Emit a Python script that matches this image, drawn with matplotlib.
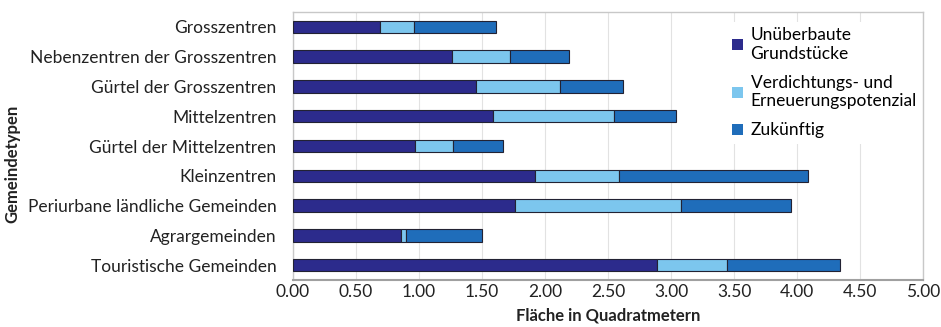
import matplotlib
matplotlib.use("Agg")
import matplotlib.pyplot as plt
import numpy as np

# Gemeindetypen, top to bottom
categories = [
    "Grosszentren",
    "Nebenzentren der Grosszentren",
    "Gürtel der Grosszentren",
    "Mittelzentren",
    "Gürtel der Mittelzentren",
    "Kleinzentren",
    "Periurbane ländliche Gemeinden",
    "Agrargemeinden",
    "Touristische Gemeinden",
]

# Fläche in Quadratmetern per segment
unueberbaut = [0.69, 1.26, 1.45, 1.59, 0.97, 1.92, 1.76, 0.86, 2.89]
verdichtung = [0.27, 0.46, 0.67, 0.96, 0.30, 0.67, 1.32, 0.04, 0.55]
zukuenftig = [0.65, 0.47, 0.50, 0.49, 0.40, 1.50, 0.87, 0.60, 0.90]

series_labels = ["Unüberbaute\nGrundstücke",
                 "Verdichtungs- und\nErneuerungspotenzial",
                 "Zukünftig"]
colors = ["#2c2b8c", "#7cc6ee", "#1f6dba"]
xticks = np.arange(0, 5.01, 0.5)

plt.rcParams["font.family"] = ["Lato", "DejaVu Sans"]
fs = 12.5

fig = plt.figure(figsize=(9.41, 3.27), dpi=100)
ax = fig.add_axes([0.3114, 0.1437, 0.6696, 0.8196])

y = np.arange(len(categories))
left = np.zeros(len(categories))
for vals, col, lab in zip([unueberbaut, verdichtung, zukuenftig], colors, series_labels):
    ax.barh(y, vals, left=left, height=0.42, color=col, edgecolor="#222233",
            linewidth=0.8, label=lab, zorder=3)
    left += np.array(vals)

ax.set_ylim(8.5, -0.5)
ax.set_xlim(0, 5.0)
ax.set_yticks(y)
ax.set_yticklabels(categories, fontsize=fs, color="#222222")
ax.set_xticks(xticks)
ax.set_xticklabels([f"{t:.2f}" for t in xticks], fontsize=fs, color="#222222")
ax.tick_params(axis="y", length=0, pad=12)
ax.tick_params(axis="x", length=0, pad=3)

ax.grid(axis="x", color="#e2e2e2", linewidth=0.8, zorder=0)
for s in ax.spines.values():
    s.set_color("#c8c8c8")
    s.set_linewidth(1.0)
ax.spines["bottom"].set_color("#a0a0a0")
ax.spines["bottom"].set_linewidth(1.5)

ax.set_xlabel("Fläche in Quadratmetern", fontsize=12, fontweight="bold",
              color="#222222", labelpad=5)
fig.text(0.013, 0.5, "Gemeindetypen", rotation=90, fontsize=12,
         fontweight="bold", color="#222222", ha="center", va="center")

leg = ax.legend(loc="upper right", bbox_to_anchor=(1.012, 0.995), fontsize=fs,
                frameon=True, fancybox=False, edgecolor="none",
                facecolor="white", framealpha=1.0, handlelength=0.6,
                handleheight=0.6, handletextpad=0.45, labelspacing=0.75,
                borderpad=0.3)
for h in leg.legend_handles:
    h.set_edgecolor("none")
leg.set_zorder(5)

fig.savefig("out.png", dpi=100)
